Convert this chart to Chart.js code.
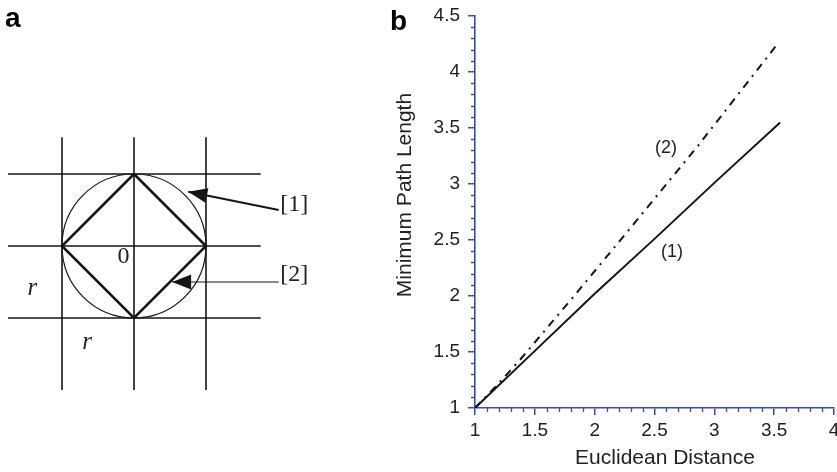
<!DOCTYPE html>
<html>
<head>
<meta charset="utf-8">
<script src="https://cdn.jsdelivr.net/npm/chart.js@4/dist/chart.umd.min.js"></script>
<style>
html, body { margin:0; padding:0; background:#fff; overflow:hidden; }
#wrapA { position:absolute; left:0; top:0; width:390px; height:472px; }
#wrapB { position:absolute; left:390px; top:0; width:447px; height:472px; }
</style>
</head>
<body>
<div id="wrapA"><canvas id="chartA"></canvas></div>
<div id="wrapB"><canvas id="chartB"></canvas></div>
<script>
// ---- panel a: grid, circle [1], diamond [2] (units of r, centre 0) ----
var gridPos = [-1, 0, 1];
var gridVSpan = [-2.0, 1.51];
var gridHSpan = [-1.75, 1.76];
var diamondX = [0, 1, 0, -1, 0];
var diamondY = [1, 0, -1, 0, 1];
var circleR = 1;
var arrow1X = [2.01, 0.754];
var arrow1Y = [0.5, 0.754];
var arrow2X = [2.01, 0.53];
var arrow2Y = [-0.5, -0.5];
var bracketText = ["[1]", "[2]"];
var bracketX = [2.03, 2.03];
var bracketY = [0.58, -0.40];
var rLabelX = [-1.41, -0.65];
var rLabelY = [-0.59, -1.34];

// ---- panel b: path length vs euclidean distance ----
var distance1 = [1, 1.5, 2, 2.5, 3, 3.55];
var pathLen1 = [1, 1.51, 2.02, 2.51, 3.01, 3.55];
var distance2 = [1, 1.18, 1.36, 1.82, 2.27, 2.87, 3.52];
var pathLen2 = [1, 1.2, 1.41, 1.99, 2.57, 3.35, 4.24];
var curveText = ["(1)", "(2)"];
var curveTextX = [2.646, 2.596];
var curveTextY = [2.397, 3.32];

var ink = "#151515";
var axisBlue = "#3c4aa8";

function pts(xs, ys) {
  var out = [];
  for (var i = 0; i < xs.length; i++) out.push({ x: xs[i], y: ys[i] });
  return out;
}

function seg(data, width) {
  return { data: data, showLine: true, borderColor: ink, borderWidth: width, pointRadius: 0, fill: false };
}

// panel a datasets
var dsA = [];
for (var i = 0; i < gridPos.length; i++) {
  dsA.push(seg(pts([gridPos[i], gridPos[i]], gridVSpan), 1.6));
  dsA.push(seg(pts(gridHSpan, [gridPos[i], gridPos[i]]), 1.6));
}
dsA.push(seg(pts(diamondX, diamondY), 2.6));
dsA.push(seg(pts(arrow1X, arrow1Y), 2));
dsA.push(seg(pts(arrow2X, arrow2Y), 1.2));

function arrowHead(ctx, xs, ys, ax, ay) {
  var x0 = xs.getPixelForValue(ax[0]), y0 = ys.getPixelForValue(ay[0]);
  var x1 = xs.getPixelForValue(ax[1]), y1 = ys.getPixelForValue(ay[1]);
  var a = Math.atan2(y1 - y0, x1 - x0);
  var len = 19, half = 7.5;
  ctx.beginPath();
  ctx.moveTo(x1, y1);
  ctx.lineTo(x1 - len * Math.cos(a) - half * Math.sin(a), y1 - len * Math.sin(a) + half * Math.cos(a));
  ctx.lineTo(x1 - len * Math.cos(a) + half * Math.sin(a), y1 - len * Math.sin(a) - half * Math.cos(a));
  ctx.closePath();
  ctx.fill();
}

var extrasA = {
  id: "extrasA",
  afterDatasetsDraw: function(chart) {
    var ctx = chart.ctx, xs = chart.scales.x, ys = chart.scales.y;
    ctx.save();
    // circle [1]
    var cx = xs.getPixelForValue(0), cy = ys.getPixelForValue(0);
    var rad = xs.getPixelForValue(circleR) - cx;
    ctx.strokeStyle = ink;
    ctx.lineWidth = 1.2;
    ctx.beginPath();
    ctx.arc(cx, cy, rad, 0, Math.PI * 2);
    ctx.stroke();

    ctx.fillStyle = ink;
    arrowHead(ctx, xs, ys, arrow1X, arrow1Y);
    arrowHead(ctx, xs, ys, arrow2X, arrow2Y);

    ctx.fillStyle = "#222";
    ctx.textBaseline = "middle";
    ctx.textAlign = "left";
    ctx.font = "24px 'Liberation Serif'";
    for (var i = 0; i < bracketText.length; i++) {
      ctx.fillText(bracketText[i], xs.getPixelForValue(bracketX[i]), ys.getPixelForValue(bracketY[i]));
    }
    ctx.textAlign = "center";
    ctx.fillText("0", xs.getPixelForValue(-0.146), ys.getPixelForValue(-0.153));
    ctx.font = "italic 25px 'Liberation Serif'";
    for (var j = 0; j < rLabelX.length; j++) {
      ctx.fillText("r", xs.getPixelForValue(rLabelX[j]), ys.getPixelForValue(rLabelY[j]));
    }
    // panel letter
    ctx.font = "bold 28px 'Liberation Sans'";
    ctx.textAlign = "left";
    ctx.textBaseline = "alphabetic";
    ctx.fillStyle = "#000";
    ctx.fillText("a", 5, 27);
    ctx.restore();
  }
};

new Chart(document.getElementById("chartA"), {
  type: "scatter",
  data: { datasets: dsA },
  options: {
    animation: false,
    responsive: true,
    maintainAspectRatio: false,
    layout: { padding: 0 },
    plugins: { legend: { display: false }, tooltip: { enabled: false } },
    scales: {
      x: { type: "linear", display: false, min: -1.861, max: 3.556 },
      y: { type: "linear", display: false, min: -3.139, max: 3.417 }
    }
  },
  plugins: [extrasA]
});

// panel b
function tickText(v) {
  return String(Math.round(v * 10) / 10);
}

var extrasB = {
  id: "extrasB",
  afterDraw: function(chart) {
    var ctx = chart.ctx, xs = chart.scales.x, ys = chart.scales.y;
    var area = chart.chartArea;
    ctx.save();
    // minor ticks every 0.1
    ctx.strokeStyle = axisBlue;
    ctx.lineWidth = 1.3;
    ctx.beginPath();
    for (var i = 1; i < 30; i++) {
      if (i % 5 === 0) continue;
      var px = Math.round(xs.getPixelForValue(1 + i * 0.1)) + 0.5;
      ctx.moveTo(px, area.bottom);
      ctx.lineTo(px, area.bottom + 4);
    }
    for (var k = 1; k < 35; k++) {
      if (k % 5 === 0) continue;
      var py = Math.round(ys.getPixelForValue(1 + k * 0.1)) + 0.5;
      ctx.moveTo(area.left - 4, py);
      ctx.lineTo(area.left, py);
    }
    ctx.stroke();

    ctx.fillStyle = "#222";
    ctx.font = "18px 'Liberation Sans'";
    ctx.textAlign = "center";
    ctx.textBaseline = "middle";
    for (var j = 0; j < curveText.length; j++) {
      ctx.fillText(curveText[j], xs.getPixelForValue(curveTextX[j]), ys.getPixelForValue(curveTextY[j]));
    }

    // axis titles
    ctx.font = "21px 'Liberation Sans'";
    ctx.fillText("Euclidean Distance", area.left + 190, area.bottom + 50);
    ctx.save();
    ctx.translate(area.left - 70, area.top + 179);
    ctx.rotate(-Math.PI / 2);
    ctx.fillText("Minimum Path Length", 0, 0);
    ctx.restore();

    ctx.font = "bold 28px 'Liberation Sans'";
    ctx.textAlign = "left";
    ctx.textBaseline = "alphabetic";
    ctx.fillStyle = "#000";
    ctx.fillText("b", 0, 30);
    ctx.restore();
  }
};

var axisCommon = {
  type: "linear",
  grid: { drawOnChartArea: false, tickLength: 7, color: axisBlue, lineWidth: 1.5 },
  border: { display: true, color: axisBlue, width: 1.6 }
};

new Chart(document.getElementById("chartB"), {
  type: "scatter",
  data: {
    datasets: [
      { data: pts(distance1, pathLen1), showLine: true, borderColor: ink, borderWidth: 2, pointRadius: 0 },
      { data: pts(distance2, pathLen2), showLine: true, borderColor: ink, borderWidth: 2, borderDash: [8, 6, 2, 6], pointRadius: 0 }
    ]
  },
  options: {
    animation: false,
    responsive: true,
    maintainAspectRatio: false,
    layout: { padding: { left: 0, top: 16, right: 3, bottom: 0 } },
    plugins: { legend: { display: false }, tooltip: { enabled: false } },
    scales: {
      x: Object.assign({}, axisCommon, {
        min: 1, max: 4,
        ticks: { stepSize: 0.5, padding: 4, color: "#222", font: { family: "'Liberation Sans'", size: 19 }, callback: tickText },
        afterFit: function(s) { s.height = 64; s.paddingLeft = 0; s.paddingRight = 0; }
      }),
      y: Object.assign({}, axisCommon, {
        min: 1, max: 4.5,
        ticks: { stepSize: 0.5, padding: 8, color: "#222", font: { family: "'Liberation Sans'", size: 19 }, callback: tickText },
        afterFit: function(s) { s.width = 85; s.paddingTop = 0; s.paddingBottom = 0; }
      })
    }
  },
  plugins: [extrasB]
});
</script>
</body>
</html>
